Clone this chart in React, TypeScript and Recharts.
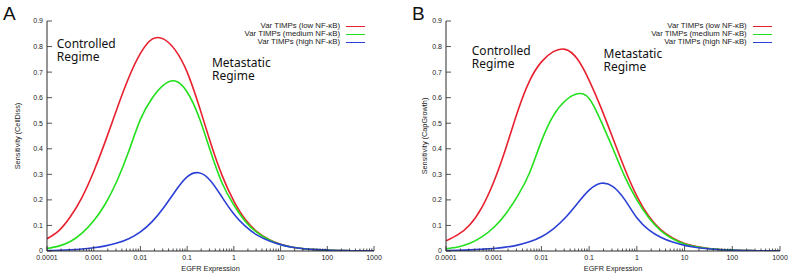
import React from 'react';
import { LineChart, Line, XAxis, YAxis, Legend, ReferenceDot, Label } from 'recharts';

// EGFR expression sample points (quarter decades)
const egfr = [
  0.0001, 0.000178, 0.000316, 0.000562, 0.001, 0.00178, 0.00316, 0.00562, 0.01, 0.0178,
  0.0316, 0.0562, 0.1, 0.178, 0.316, 0.562, 1, 1.78, 3.16, 5.62,
  10, 17.8, 31.6, 56.2, 100, 178, 316, 562, 1000,
];

// Panel A: Sensitivity (CellDiss)
const lowA = [
  0.048, 0.079, 0.134, 0.21, 0.311, 0.43, 0.558, 0.678, 0.773, 0.829,
  0.829, 0.785, 0.70, 0.57, 0.425, 0.295, 0.195, 0.122, 0.075, 0.045,
  0.026, 0.015, 0.009, 0.0055, 0.0033, 0.002, 0.0012, 0.0007, 0.0004,
];
const mediumA = [
  0.010, 0.019, 0.037, 0.07, 0.118, 0.185, 0.275, 0.39, 0.515, 0.598,
  0.65, 0.665, 0.622, 0.525, 0.39, 0.265, 0.18, 0.115, 0.072, 0.044,
  0.025, 0.015, 0.009, 0.0055, 0.0033, 0.002, 0.0012, 0.0007, 0.0004,
];
const highA = [
  0.002, 0.003, 0.005, 0.008, 0.013, 0.02, 0.031, 0.048, 0.075, 0.115,
  0.17, 0.235, 0.29, 0.306, 0.275, 0.21, 0.145, 0.096, 0.062, 0.04,
  0.025, 0.015, 0.009, 0.0055, 0.0033, 0.002, 0.0012, 0.0007, 0.0004,
];

// Panel B: Sensitivity (CapGrowth)
const lowB = [
  0.040, 0.064, 0.103, 0.17, 0.27, 0.40, 0.545, 0.665, 0.74, 0.78,
  0.789, 0.752, 0.668, 0.56, 0.44, 0.32, 0.215, 0.136, 0.084, 0.051,
  0.029, 0.017, 0.01, 0.006, 0.0035, 0.002, 0.0012, 0.0007, 0.0004,
];
const mediumB = [
  0.009, 0.016, 0.03, 0.055, 0.092, 0.145, 0.215, 0.305, 0.43, 0.53,
  0.588, 0.615, 0.597, 0.507, 0.40, 0.29, 0.20, 0.13, 0.08, 0.048,
  0.027, 0.016, 0.0095, 0.0055, 0.0033, 0.002, 0.0012, 0.0007, 0.0004,
];
const highB = [
  0.002, 0.003, 0.0045, 0.007, 0.01, 0.015, 0.023, 0.036, 0.056, 0.087,
  0.13, 0.185, 0.238, 0.265, 0.252, 0.2, 0.13, 0.083, 0.054, 0.035,
  0.022, 0.014, 0.0085, 0.005, 0.003, 0.0018, 0.0011, 0.0007, 0.0004,
];

const seriesKeys = ['low', 'medium', 'high'];
const seriesNames = ['Var TIMPs (low NF-\u03baB)', 'Var TIMPs (medium NF-\u03baB)', 'Var TIMPs (high NF-\u03baB)'];
const seriesColors = ['#e8202e', '#22e01c', '#2b40d4'];

const majorTicks = [0.0001, 0.001, 0.01, 0.1, 1, 10, 100, 1000];
const majorLabels = ['0.0001', '0.001', '0.01', '0.1', '1', '10', '100', '1000'];
const yTicks = [0, 0.1, 0.2, 0.3, 0.4, 0.5, 0.6, 0.7, 0.8, 0.9];
const yLabels = ['0', '0.1', '0.2', '0.3', '0.4', '0.5', '0.6', '0.7', '0.8', '0.9'];
const minorMultipliers = [2, 3, 4, 5, 6, 7, 8, 9];

const minorTicks = majorTicks
  .slice(0, -1)
  .flatMap((m) => minorMultipliers.map((k) => Number((m * k).toPrecision(3))));
const allXTicks = [...majorTicks, ...minorTicks].sort((a, b) => a - b);

const AXIS = '#2a2a2a';
const FONT = '"Liberation Sans", Arial, Helvetica, sans-serif';
const ANNOT_FONT = '"Noto Sans", "DejaVu Sans", sans-serif';
const TICK_FS = 7;

const majorIndex = (v: number) => majorTicks.findIndex((m) => Math.abs(m - v) / m < 1e-6);

const BottomTick = (props: any) => {
  const { x, y, payload } = props;
  const idx = majorIndex(payload.value);
  const len = idx >= 0 ? 5 : 2.5;
  return (
    <g>
      <line x1={x} x2={x} y1={y} y2={y - len} stroke={AXIS} strokeWidth={0.8} />
      {idx >= 0 && (
        <text x={x} y={y + 9} textAnchor="middle" fontSize={TICK_FS} fontFamily={FONT} fill="#222">
          {majorLabels[idx]}
        </text>
      )}
    </g>
  );
};

const TopTick = (props: any) => {
  const { x, y, payload } = props;
  const idx = majorIndex(payload.value);
  const len = idx >= 0 ? 5 : 2.5;
  return <line x1={x} x2={x} y1={y} y2={y + len} stroke={AXIS} strokeWidth={0.8} />;
};

const LeftTick = (props: any) => {
  const { x, y, payload, index } = props;
  const i = yTicks.findIndex((t) => Math.abs(t - payload.value) < 1e-9);
  return (
    <g>
      <line x1={x} x2={x + 5} y1={y} y2={y} stroke={AXIS} strokeWidth={0.8} />
      <text x={x - 4} y={y} dy="0.35em" textAnchor="end" fontSize={TICK_FS} fontFamily={FONT} fill="#222">
        {yLabels[i >= 0 ? i : index]}
      </text>
    </g>
  );
};

const RightTick = (props: any) => {
  const { x, y } = props;
  return <line x1={x} x2={x - 5} y1={y} y2={y} stroke={AXIS} strokeWidth={0.8} />;
};

const LegendBox = (props: any) => {
  const items = [...(props.payload || [])].sort(
    (a: any, b: any) => seriesNames.indexOf(a.value) - seriesNames.indexOf(b.value),
  );
  return (
    <div style={{ fontFamily: FONT, fontSize: 7.8, color: '#222' }}>
      {items.map((p: any) => (
        <div
          key={p.value}
          style={{ display: 'flex', justifyContent: 'flex-end', alignItems: 'center', height: 8, lineHeight: '8px' }}
        >
          <span style={{ whiteSpace: 'nowrap' }}>{p.value}</span>
          <span
            style={{ display: 'inline-block', width: 19, height: 0, borderTop: `1.5px solid ${p.color}`, marginLeft: 6 }}
          />
        </div>
      ))}
    </div>
  );
};

const TwoLine = (lines: string[]) => (props: any) => {
  const vb = props.viewBox || {};
  return (
    <g>
      <text x={vb.x} y={vb.y} fontSize={12} fontFamily={ANNOT_FONT} fill="#111">
        {lines[0]}
      </text>
      <text x={vb.x} y={vb.y + 13.3} fontSize={12} fontFamily={ANNOT_FONT} fill="#111">
        {lines[1]}
      </text>
    </g>
  );
};

type PanelProps = {
  width: number;
  low: number[];
  medium: number[];
  high: number[];
  yTitle: string;
  yTitleDx: number;
  marginLeft: number;
  marginRight: number;
  legendLeft: number;
  ctrlAt: [number, number];
  metaAt: [number, number];
};

function Panel(p: PanelProps) {
  const data = egfr.map((x, i) => ({ x, low: p.low[i], medium: p.medium[i], high: p.high[i] }));
  return (
    <LineChart
      width={p.width}
      height={276}
      data={data}
      margin={{ top: 21, right: p.marginRight, bottom: 0, left: p.marginLeft }}
    >
      <XAxis
        dataKey="x"
        type="number"
        scale="log"
        domain={[0.0001, 1000]}
        allowDataOverflow
        ticks={allXTicks}
        interval={0}
        tickSize={0}
        tickMargin={0}
        tickLine={false}
        axisLine={{ stroke: AXIS, strokeWidth: 1 }}
        tick={(tp: any) => <BottomTick {...tp} />}
        height={25}
      >
        <Label
          content={(lp: any) => {
            const vb = lp.viewBox || {};
            return (
              <text x={vb.x + vb.width / 2} y={vb.y + 20} textAnchor="middle" fontSize={7.3} fontFamily={FONT} fill="#222">
                EGFR Expression
              </text>
            );
          }}
        />
      </XAxis>
      <XAxis
        xAxisId="top"
        orientation="top"
        type="number"
        scale="log"
        domain={[0.0001, 1000]}
        allowDataOverflow
        ticks={allXTicks}
        interval={0}
        tickSize={0}
        tickMargin={0}
        tickLine={false}
        axisLine={{ stroke: AXIS, strokeWidth: 1 }}
        tick={(tp: any) => <TopTick {...tp} />}
        height={0}
      />
      <YAxis
        type="number"
        domain={[0, 0.9]}
        allowDataOverflow
        ticks={yTicks}
        interval={0}
        tickSize={0}
        tickMargin={0}
        tickLine={false}
        axisLine={{ stroke: AXIS, strokeWidth: 1 }}
        tick={(tp: any) => <LeftTick {...tp} />}
        width={30}
      >
        <Label
          content={(lp: any) => {
            const vb = lp.viewBox || {};
            const cx = vb.x + p.yTitleDx;
            const cy = vb.y + vb.height / 2;
            return (
              <text
                x={cx}
                y={cy}
                transform={`rotate(-90 ${cx} ${cy})`}
                textAnchor="middle"
                dominantBaseline="central"
                fontSize={7.3}
                fontFamily={FONT}
                fill="#222"
              >
                {p.yTitle}
              </text>
            );
          }}
        />
      </YAxis>
      <YAxis
        yAxisId="right"
        orientation="right"
        type="number"
        domain={[0, 0.9]}
        allowDataOverflow
        ticks={yTicks}
        interval={0}
        tickSize={0}
        tickMargin={0}
        tickLine={false}
        axisLine={{ stroke: AXIS, strokeWidth: 1 }}
        tick={(tp: any) => <RightTick {...tp} />}
        width={0}
      />
      {seriesKeys.map((k, i) => (
        <Line
          key={k}
          dataKey={k}
          name={seriesNames[i]}
          type="natural"
          stroke={seriesColors[i]}
          strokeWidth={1.6}
          dot={false}
          activeDot={false}
          isAnimationActive={false}
        />
      ))}
      <ReferenceDot x={p.ctrlAt[0]} y={p.ctrlAt[1]} r={0} fill="none" stroke="none" label={TwoLine(['Controlled', 'Regime'])} />
      <ReferenceDot x={p.metaAt[0]} y={p.metaAt[1]} r={0} fill="none" stroke="none" label={TwoLine(['Metastatic', 'Regime'])} />
      <Legend
        layout="horizontal"
        verticalAlign="middle"
        align="center"
        content={(lp: any) => <LegendBox {...lp} />}
        wrapperStyle={{ left: p.legendLeft, top: 22, width: 130, right: 'auto', bottom: 'auto' }}
      />
    </LineChart>
  );
}

const Letter = ({ ch }: { ch: string }) => (
  <svg width={30} height={28} style={{ display: 'block' }}>
    <text x={3} y={20} fontSize={19} fontFamily={FONT} fill="#111">
      {ch}
    </text>
  </svg>
);

export default function App() {
  return (
    <div style={{ position: 'absolute', left: 0, top: 0, width: 793, height: 276, background: '#fff', overflow: 'hidden' }}>
      <div style={{ position: 'absolute', left: 0, top: 0 }}>
        <Panel
          width={400}
          low={lowA}
          medium={mediumA}
          high={highA}
          yTitle="Sensitivity (CellDiss)"
          yTitleDx={0.5}
          marginLeft={17}
          marginRight={26}
          legendLeft={235}
          ctrlAt={[0.000162, 0.794]}
          metaAt={[0.34, 0.721]}
        />
      </div>
      <div style={{ position: 'absolute', left: 400, top: 0 }}>
        <Panel
          width={393}
          low={lowB}
          medium={mediumB}
          high={highB}
          yTitle="Sensitivity (CapGrowth)"
          yTitleDx={8}
          marginLeft={16}
          marginRight={13}
          legendLeft={241.7}
          ctrlAt={[0.000347, 0.768]}
          metaAt={[0.2, 0.755]}
        />
      </div>
      <div style={{ position: 'absolute', left: 0, top: 0 }}>
        <Letter ch="A" />
      </div>
      <div style={{ position: 'absolute', left: 409, top: 0 }}>
        <Letter ch="B" />
      </div>
    </div>
  );
}
